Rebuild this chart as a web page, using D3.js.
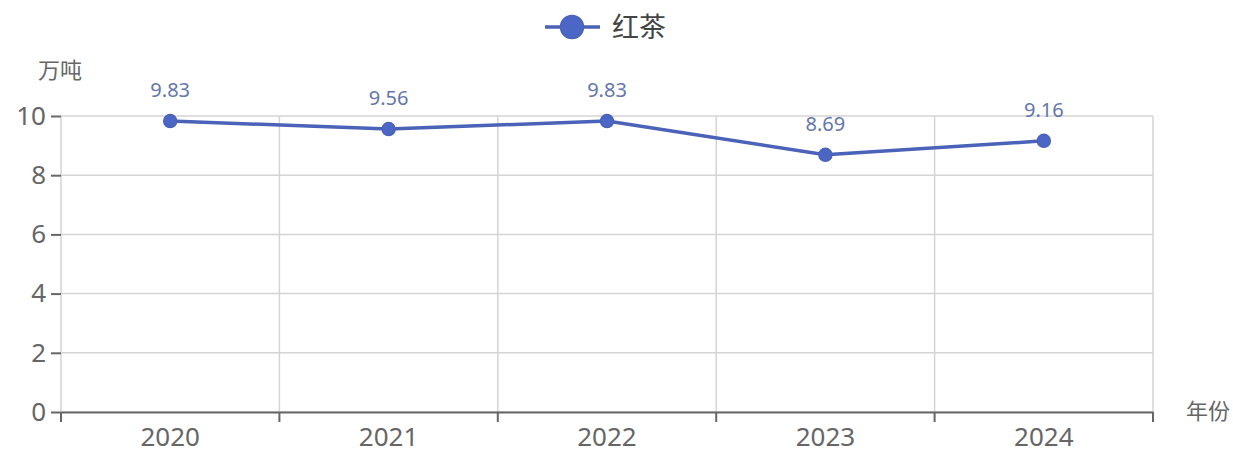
<!DOCTYPE html>
<html lang="zh">
<head>
<meta charset="UTF-8">
<title>红茶</title>
<script src="https://d3js.org/d3.v7.min.js"></script>
<style>
    body { margin: 0; background: #fff; }
    text { font-family: "Noto Sans CJK SC", "Noto Sans", sans-serif; }
</style>
</head>
<body>
<svg id="chart" width="1233" height="454"></svg>
<script>
    // data
    var years = ["2020", "2021", "2022", "2023", "2024"];
    var output = [9.83, 9.56, 9.83, 8.69, 9.16];
    var yTicks = [0, 2, 4, 6, 8, 10];
    var seriesName = "红茶";

    var svg = d3.select("#chart");
    var margin = {left: 61, right: 80, top: 116, bottom: 42};
    var width = 1233, height = 454;
    var lineColour = "#4a62b8";
    var labelColour = "#6476ac";

    var x = d3.scaleBand().domain(years).range([margin.left, width - margin.right]);
    var y = d3.scaleLinear().domain([0, 10]).range([height - margin.bottom, margin.top]);

    // horizontal grid
    svg.append("g").selectAll("line").data(yTicks).enter().append("line")
        .attr("x1", margin.left).attr("x2", width - margin.right)
        .attr("y1", function (d) { return y(d); }).attr("y2", function (d) { return y(d); })
        .attr("stroke", "#d4d4d4").attr("stroke-width", 1.5);

    // vertical grid at band edges
    var edges = years.map(function (d) { return x(d); }).concat([width - margin.right]);
    svg.append("g").selectAll("line").data(edges).enter().append("line")
        .attr("x1", function (d) { return d; }).attr("x2", function (d) { return d; })
        .attr("y1", margin.top).attr("y2", height - margin.bottom)
        .attr("stroke", "#d4d4d4").attr("stroke-width", 1.5);

    // y axis (ticks + labels only)
    var yAxis = svg.append("g").attr("transform", "translate(" + margin.left + ",0)")
        .call(d3.axisLeft(y).tickValues(yTicks).tickSize(10).tickPadding(5));
    yAxis.select(".domain").remove();
    yAxis.selectAll(".tick line").attr("stroke", "#666").attr("stroke-width", 2);
    yAxis.selectAll(".tick text").attr("fill", "#666").style("font-size", "26px")
        .style("font-family", "'Noto Sans', sans-serif");

    // x axis
    var xAxis = svg.append("g").attr("transform", "translate(0," + (height - margin.bottom) + ")")
        .call(d3.axisBottom(x).tickSize(0).tickPadding(16));
    xAxis.select(".domain").attr("stroke", "#666").attr("stroke-width", 2);
    xAxis.selectAll(".tick text").attr("fill", "#666").style("font-size", "26px")
        .style("font-family", "'Noto Sans', sans-serif");
    xAxis.append("g").selectAll("line").data(edges).enter().append("line")
        .attr("x1", function (d) { return d; }).attr("x2", function (d) { return d; })
        .attr("y1", 0).attr("y2", 10)
        .attr("stroke", "#666").attr("stroke-width", 2);

    // axis names
    svg.append("text").attr("x", 60).attr("y", 78).attr("text-anchor", "middle")
        .attr("fill", "#666").style("font-size", "22px").text("万吨");
    svg.append("text").attr("x", 1186).attr("y", 419)
        .attr("fill", "#666").style("font-size", "22px").text("年份");

    // line
    var cx = function (d, i) { return x(years[i]) + x.bandwidth() / 2; };
    var line = d3.line().x(function (d, i) { return cx(d, i); }).y(function (d) { return y(d); });
    svg.append("path").datum(output).attr("d", line)
        .attr("fill", "none").attr("stroke", lineColour).attr("stroke-width", 3.5)
        .attr("stroke-linejoin", "round");

    svg.append("g").selectAll("circle").data(output).enter().append("circle")
        .attr("cx", cx).attr("cy", function (d) { return y(d); }).attr("r", 6.5)
        .attr("fill", "#4b66c4").attr("stroke", lineColour).attr("stroke-width", 1.5);

    svg.append("g").selectAll("text").data(output).enter().append("text")
        .attr("x", cx).attr("y", function (d) { return y(d) - 24; })
        .attr("text-anchor", "middle").attr("fill", labelColour)
        .style("font-size", "20px").style("font-family", "'Noto Sans', sans-serif")
        .text(function (d) { return d.toFixed(2); });

    // legend
    var legend = svg.append("g");
    legend.append("line").attr("x1", 545).attr("x2", 600).attr("y1", 27).attr("y2", 27)
        .attr("stroke", lineColour).attr("stroke-width", 3.5);
    legend.append("circle").attr("cx", 572).attr("cy", 27).attr("r", 11.5)
        .attr("fill", "#4b66c4").attr("stroke", lineColour).attr("stroke-width", 1.5);
    legend.append("text").attr("x", 612).attr("y", 37).attr("fill", "#444")
        .style("font-size", "27px").text(seriesName);
</script>
</body>
</html>
